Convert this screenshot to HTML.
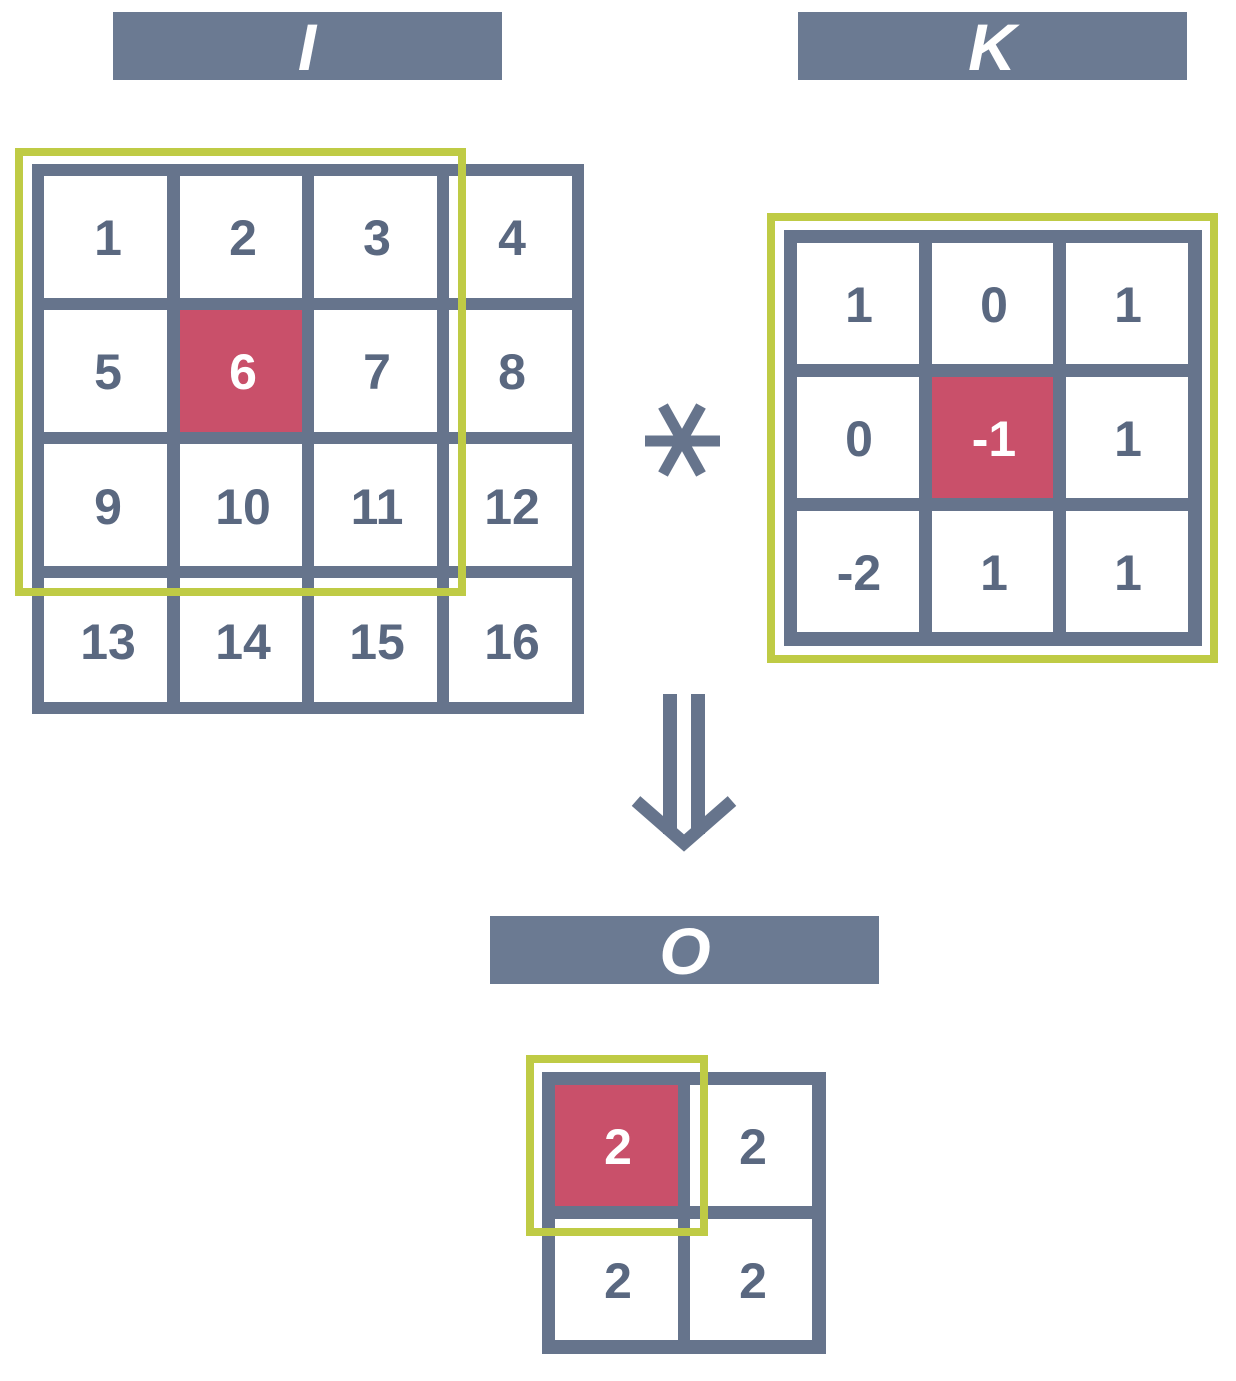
<!DOCTYPE html>
<html><head><meta charset="utf-8"><style>html,body{margin:0;padding:0;background:#fff}</style></head>
<body>
<svg width="1236" height="1376" viewBox="0 0 1236 1376" xmlns="http://www.w3.org/2000/svg" font-family="Liberation Sans, sans-serif" font-weight="bold">
<rect width="1236" height="1376" fill="#fff"/>
<!-- headers -->
<rect x="113" y="12" width="389" height="68" fill="#6b7a92"/>
<text x="307" y="70" font-size="66" font-style="italic" fill="#fff" text-anchor="middle">I</text>
<rect x="798" y="12" width="389" height="68" fill="#6b7a92"/>
<text x="992" y="70" font-size="66" font-style="italic" fill="#fff" text-anchor="middle">K</text>
<rect x="490" y="916" width="389" height="68" fill="#6b7a92"/>
<text x="685" y="974" font-size="66" font-style="italic" fill="#fff" text-anchor="middle">O</text>

<!-- I grid -->
<rect x="32" y="164" width="552" height="550" fill="#66748c"/>
<g fill="#fff">
<rect x="44" y="176" width="123" height="122"/><rect x="180" y="176" width="122" height="122"/><rect x="314" y="176" width="123" height="122"/><rect x="449" y="176" width="123" height="122"/>
<rect x="44" y="310" width="123" height="122"/><rect x="180" y="310" width="122" height="122" fill="#c9506a"/><rect x="314" y="310" width="123" height="122"/><rect x="449" y="310" width="123" height="122"/>
<rect x="44" y="444" width="123" height="122"/><rect x="180" y="444" width="122" height="122"/><rect x="314" y="444" width="123" height="122"/><rect x="449" y="444" width="123" height="122"/>
<rect x="44" y="578" width="123" height="124"/><rect x="180" y="578" width="122" height="124"/><rect x="314" y="578" width="123" height="124"/><rect x="449" y="578" width="123" height="124"/>
</g>
<g font-size="50" fill="#5a6880" text-anchor="middle">
<text x="108" y="255">1</text><text x="243" y="255">2</text><text x="377" y="255">3</text><text x="512" y="255">4</text>
<text x="108" y="389">5</text><text x="243" y="389" fill="#fff">6</text><text x="377" y="389">7</text><text x="512" y="389">8</text>
<text x="108" y="524">9</text><text x="243" y="524">10</text><text x="377" y="524">11</text><text x="512" y="524">12</text>
<text x="108" y="659">13</text><text x="243" y="659">14</text><text x="377" y="659">15</text><text x="512" y="659">16</text>
</g>
<rect x="19" y="152" width="443" height="440" fill="none" stroke="#bfcb45" stroke-width="8"/>

<!-- asterisk -->
<g stroke="#66748c" stroke-width="11">
<line x1="645" y1="441" x2="720" y2="441"/>
<line x1="663" y1="406" x2="701" y2="474"/>
<line x1="701" y1="406" x2="663" y2="474"/>
</g>

<!-- K grid -->
<rect x="784" y="230" width="418" height="416" fill="#66748c"/>
<g fill="#fff">
<rect x="797" y="243" width="122" height="121"/><rect x="932" y="243" width="121" height="121"/><rect x="1066" y="243" width="122" height="121"/>
<rect x="797" y="377" width="122" height="121"/><rect x="932" y="377" width="121" height="121" fill="#c9506a"/><rect x="1066" y="377" width="122" height="121"/>
<rect x="797" y="511" width="122" height="121"/><rect x="932" y="511" width="121" height="121"/><rect x="1066" y="511" width="122" height="121"/>
</g>
<g font-size="50" fill="#5a6880" text-anchor="middle">
<text x="859" y="322">1</text><text x="994" y="322">0</text><text x="1128" y="322">1</text>
<text x="859" y="456">0</text><text x="994" y="456" fill="#fff">-1</text><text x="1128" y="456">1</text>
<text x="859" y="590">-2</text><text x="994" y="590">1</text><text x="1128" y="590">1</text>
</g>
<rect x="771" y="217" width="443" height="442" fill="none" stroke="#bfcb45" stroke-width="8"/>

<!-- arrow -->
<g fill="#66748c">
<rect x="663" y="694" width="14" height="140"/>
<rect x="691" y="694" width="14" height="140"/>
</g>
<polyline points="636,801 684,843 732,801" fill="none" stroke="#66748c" stroke-width="13"/>

<!-- O grid -->
<rect x="542" y="1072" width="284" height="282" fill="#66748c"/>
<g fill="#fff">
<rect x="555" y="1085" width="123" height="121" fill="#c9506a"/><rect x="690" y="1085" width="122" height="121"/>
<rect x="555" y="1219" width="123" height="121"/><rect x="690" y="1219" width="122" height="121"/>
</g>
<g font-size="50" fill="#5a6880" text-anchor="middle">
<text x="618" y="1164" fill="#fff">2</text><text x="753" y="1164">2</text>
<text x="618" y="1298">2</text><text x="753" y="1298">2</text>
</g>
<rect x="530" y="1059" width="174" height="173" fill="none" stroke="#bfcb45" stroke-width="8"/>
</svg>
</body></html>
